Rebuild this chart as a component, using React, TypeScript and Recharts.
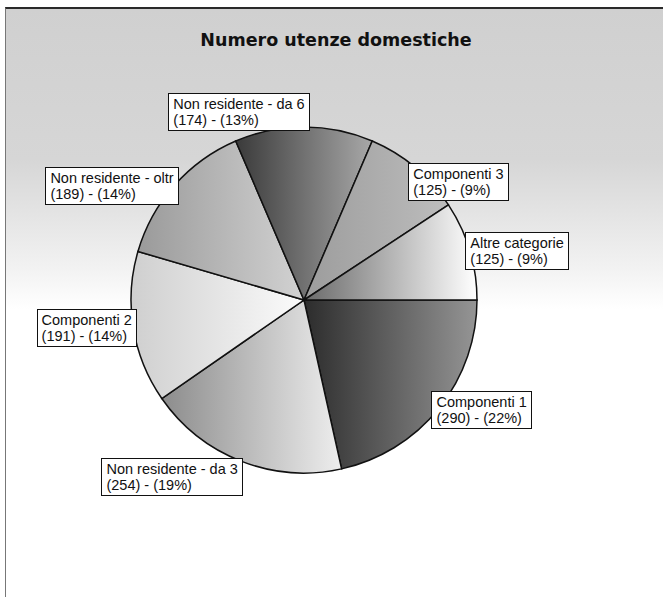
import React from 'react';
import { PieChart, Pie, Cell } from 'recharts';

const CATEGORIES = [
    'Componenti 1',
    'Non residente - da 3',
    'Componenti 2',
    'Non residente - oltr',
    'Non residente - da 6',
    'Componenti 3',
    'Altre categorie',
];

const UTENZE = [290, 254, 191, 189, 174, 125, 125];

const TITLE = 'Numero utenze domestiche';

// left -> right shading of each slice (scanned grey gradients)
const SHADES = [
    ['#2c2c2c', '#959595'],
    ['#8c8c8c', '#eeeeee'],
    ['#cfcfcf', '#fbfbfb'],
    ['#9a9a9a', '#d2d2d2'],
    ['#3a3a3a', '#a8a8a8'],
    ['#9c9c9c', '#bdbdbd'],
    ['#6a6a6a', '#ffffff'],
];

// nudges of the label boxes from their radial anchor
const LABEL_NUDGE = [
    [13, -22],
    [-55, -19],
    [-9, -6],
    [-34, 26],
    [-65, 23],
    [19, 44],
    [11, 12],
];

const data = CATEGORIES.map((name, i) => ({ name, value: UTENZE[i] }));

const RAD = Math.PI / 180;

function renderLabel(props: any) {
    const { cx, cy, midAngle, outerRadius, name, value, percent, index } = props;
    const r = outerRadius + 38;
    const [nx, ny] = LABEL_NUDGE[index] || [0, 0];
    const x = cx + r * Math.cos(-midAngle * RAD) + nx;
    const y = cy + r * Math.sin(-midAngle * RAD) + ny;
    return (
        <foreignObject x={x - 150} y={y - 40} width={300} height={80}>
            <div
                style={{
                    width: 300,
                    height: 80,
                    display: 'flex',
                    alignItems: 'center',
                    justifyContent: 'center',
                }}
            >
                <div
                    style={{
                        background: '#fff',
                        border: '1.5px solid #111',
                        padding: '2px 4px',
                        fontFamily: '"Liberation Sans", Arial, sans-serif',
                        fontSize: 14.5,
                        lineHeight: '16px',
                        color: '#111',
                        whiteSpace: 'nowrap',
                    }}
                >
                    {name}
                    <br />
                    ({value}) - ({Math.round(percent * 100)}%)
                </div>
            </div>
        </foreignObject>
    );
}

export default function App() {
    return (
        <div style={{ position: 'absolute', left: 0, top: 0, width: 663, height: 597, overflow: 'hidden' }}>
            {/* scanned page background */}
            <div
                style={{
                    position: 'absolute',
                    left: 5,
                    top: 7,
                    width: 700,
                    height: 620,
                    borderTop: '2px solid #2a2a2a',
                    borderLeft: '1px solid #777',
                    background: 'linear-gradient(to bottom, #d0d0d0 0px, #d6d6d6 150px, #f2f2f2 260px, #ffffff 300px)',
                }}
            />
            <div
                style={{
                    position: 'absolute',
                    left: 0,
                    top: 30,
                    width: 672,
                    textAlign: 'center',
                    fontFamily: '"DejaVu Sans", Verdana, sans-serif',
                    fontWeight: 'bold',
                    fontSize: 17.5,
                    color: '#111',
                }}
            >
                {TITLE}
            </div>
            <div style={{ position: 'absolute', left: 0, top: 0 }}>
                <PieChart width={663} height={597}>
                    <defs>
                        {SHADES.map((s, i) => (
                            <linearGradient key={i} id={`shade-${i}`} x1="0" y1="0" x2="1" y2="0">
                                <stop offset="0%" stopColor={s[0]} />
                                <stop offset="100%" stopColor={s[1]} />
                            </linearGradient>
                        ))}
                    </defs>
                    <Pie
                        data={data}
                        dataKey="value"
                        nameKey="name"
                        cx={299}
                        cy={295}
                        outerRadius={173}
                        startAngle={0}
                        endAngle={-360}
                        stroke="#111"
                        strokeWidth={1.5}
                        label={renderLabel}
                        labelLine={false}
                        isAnimationActive={false}
                    >
                        {data.map((entry, index) => (
                            <Cell key={`cell-${index}`} fill={`url(#shade-${index})`} />
                        ))}
                    </Pie>
                </PieChart>
            </div>
        </div>
    );
}
